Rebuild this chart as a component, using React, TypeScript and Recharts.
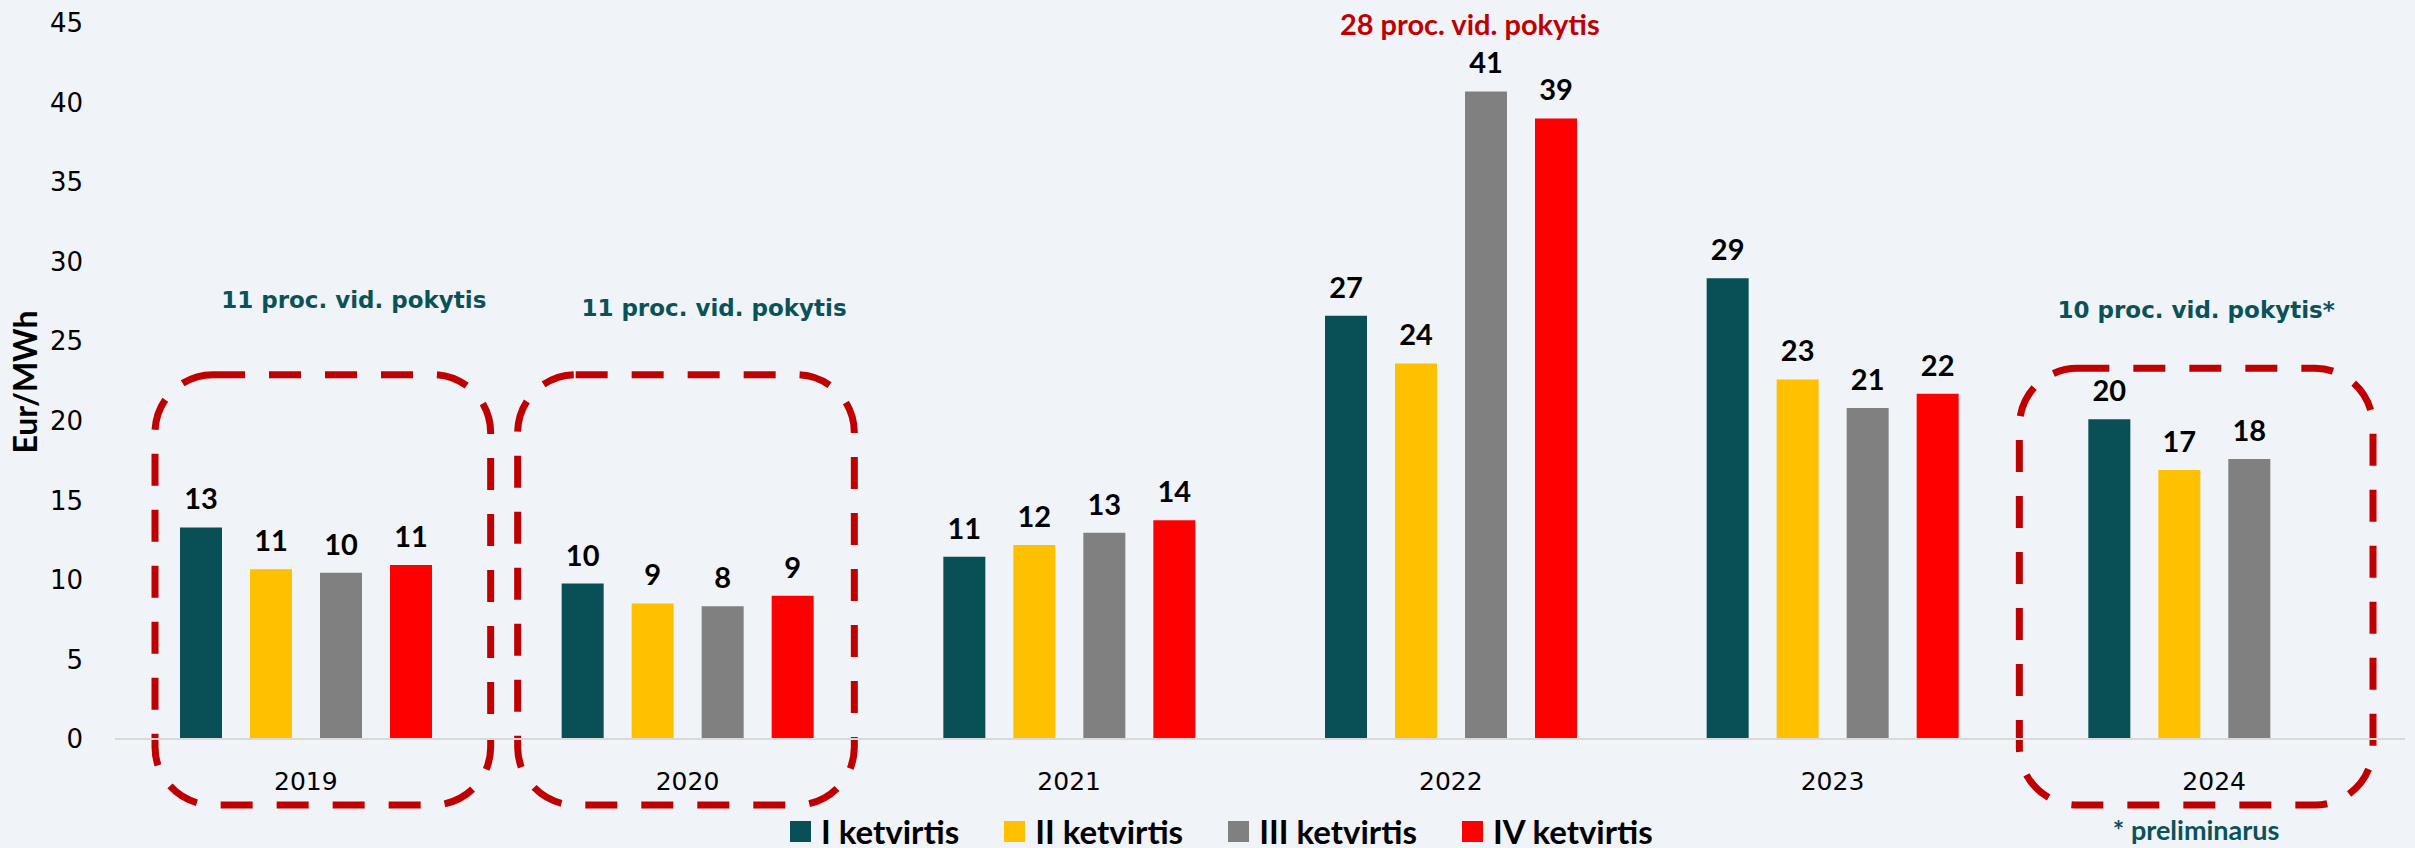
import { BarChart, Bar, XAxis, YAxis, Legend, LabelList, ReferenceArea, ReferenceDot } from 'recharts'

const YEARS = ['2019', '2020', '2021', '2022', '2023', '2024']
const Q1 = [13.3, 9.77, 11.45, 26.6, 28.95, 20.1]
const Q2 = [10.67, 8.52, 12.2, 23.6, 22.6, 16.9]
const Q3 = [10.45, 8.34, 12.97, 40.7, 20.8, 17.6]
const Q4 = [10.94, 9.01, 13.75, 39.0, 21.7, null]
const SERIES = ['I ketvirtis', 'II ketvirtis', 'III ketvirtis', 'IV ketvirtis']
const COLORS = ['#094F56', '#FFC000', '#808080', '#FF0000']
const Y_TICKS = [0, 5, 10, 15, 20, 25, 30, 35, 40, 45]

// dashed boxes + notes
const BOX_YEARS = ['2019', '2020', '2024']
const BOX_NOTES = ['11 proc. vid. pokytis', '11 proc. vid. pokytis', '10 proc. vid. pokytis*']
const BOX_TOP = [22.9, 22.9, 23.3]
const PEAK_NOTE = '28 proc. vid. pokytis'
const FOOT_NOTE = '* preliminarus'
const Y_TITLE = 'Eur/MWh'

const data = YEARS.map((y, i) => ({ year: y, q1: Q1[i], q2: Q2[i], q3: Q3[i], q4: Q4[i] }))
const keys = ['q1', 'q2', 'q3', 'q4']

const BG = '#F0F4F8'
const DARKRED = '#C00000'
const TEAL = '#0B5258'
const GOTHIC = '"DejaVu Sans", sans-serif'
const CALI = 'Lato, "Open Sans", sans-serif'

// per-box horizontal inset inside the year band [left, right], text shift, text lift
const BOX_LAYOUT = [
  { l: 40, r: 6, dx: 31, lift: 75 },
  { l: 21, r: 24, dx: 28, lift: 67 },
  { l: -4, r: 32, dx: 0, lift: 58 },
]

const boxShape = (i: number) => (p: any) => {
  const lay = BOX_LAYOUT[i]
  const x = p.x + lay.l
  const w = p.width - lay.l - lay.r
  const cx = x + w / 2
  return (
    <g>
      <rect x={x} y={p.y} width={w} height={p.height} rx={58} ry={58} fill="none"
        stroke={DARKRED} strokeWidth={7} strokeDasharray="32 24" />
      <text x={cx + lay.dx} y={p.y - lay.lift} textAnchor="middle" dominantBaseline="central"
        fill={TEAL} fontFamily={GOTHIC} fontWeight={700} fontSize={23}>{BOX_NOTES[i]}</text>
      {i === 2 && (
        <text x={cx} y={p.y + p.height + 24} textAnchor="middle" dominantBaseline="central"
          fill={TEAL} fontFamily={CALI} fontWeight={700} fontSize={27}>{FOOT_NOTE}</text>
      )}
    </g>
  )
}

const LegendBox = () => (
  <div style={{ display: 'flex', alignItems: 'center', height: 36, paddingLeft: 790, gap: 45 }}>
    {SERIES.map((s, i) => (
      <div key={s} style={{ display: 'flex', alignItems: 'center', gap: 10 }}>
        <span style={{ width: 21, height: 21, background: COLORS[i], display: 'inline-block' }} />
        <span style={{ fontFamily: CALI, fontWeight: 700, fontSize: 33, color: '#000', lineHeight: 1 }}>{s}</span>
      </div>
    ))}
  </div>
)

const YTitle = () => {
  const cx = 24
  const cy = 382
  return (
    <text x={cx} y={cy} transform={`rotate(-90, ${cx}, ${cy})`} textAnchor="middle" dominantBaseline="central"
      fill="#000" fontFamily={CALI} fontWeight={700} fontSize={32}>{Y_TITLE}</text>
  )
}

export default function App() {
  return (
    <div style={{ position: 'absolute', left: 0, top: 0, width: 2415, height: 848, background: BG }}>
      <BarChart width={2415} height={848} data={data} barSize={42} barGap={28}
        margin={{ top: 23, right: 10, bottom: 69, left: 0 }}>
        <XAxis dataKey="year" height={40} tickSize={0} tickMargin={33}
          axisLine={{ stroke: '#D9D9D9', strokeWidth: 2 }}
          tick={{ fill: '#000', fontFamily: GOTHIC, fontSize: 25 }} />
        <YAxis width={115} domain={[0, 45]} ticks={Y_TICKS} axisLine={false} tickSize={0} tickMargin={32}
          tick={{ fill: '#000', fontFamily: GOTHIC, fontSize: 26 }}
          label={{ content: YTitle }} />
        {keys.map((k, i) => (
          <Bar key={k} dataKey={k} name={SERIES[i]} fill={COLORS[i]} isAnimationActive={false}>
            <LabelList dataKey={k} position="top" offset={18}
              formatter={(v: any) => (v == null ? '' : Math.round(v))}
              style={{ fill: '#000', fontFamily: CALI, fontWeight: 700, fontSize: 29 }} />
          </Bar>
        ))}
        {BOX_YEARS.map((y, i) => (
          <ReferenceArea key={y} x1={y} x2={y} y1={-4.15} y2={BOX_TOP[i]} ifOverflow="visible"
            shape={boxShape(i)} />
        ))}
        <ReferenceDot x="2022" y={45} r={0} ifOverflow="visible"
          shape={(p: any) => (
            <text x={p.cx + 19} y={p.cy} textAnchor="middle" dominantBaseline="central"
              fill={DARKRED} fontFamily={CALI} fontWeight={700} fontSize={29}>{PEAK_NOTE}</text>
          )} />
        <Legend verticalAlign="middle" align="center" layout="horizontal"
          wrapperStyle={{ top: 813, left: 0, width: 2415, height: 36 }} content={LegendBox} />
      </BarChart>
    </div>
  )
}
